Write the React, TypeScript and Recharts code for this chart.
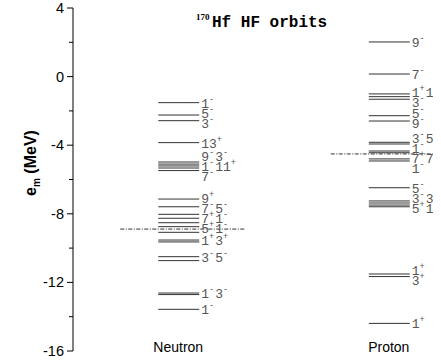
import React from "react";
import { ComposedChart, Scatter, XAxis, YAxis } from "recharts";

// single-particle levels (MeV) and their j^pi labels, top to bottom
const columns = ["Neutron", "Proton"];

const neutronEnergies = [
  -1.52, -2.24, -2.57, -3.85, -4.98, -5.1, -5.21, -5.33, -5.48, -7.14, -7.59, -8.03,
  -8.26, -8.52, -8.75, -9.08, -9.53, -9.64, -10.5, -10.73, -12.62, -12.71, -13.57,
];
const neutronLabels = [
  "1-", "5-", "3-", "13+", "9- 3-", "", "1- 11+", "", "7-", "9+", "7- 5-", "",
  "7+ 1-", "", "5+ 1-", "", "1+ 3+", "", "3- 5-", "", "1- 3-", "", "1-",
];

const protonEnergies = [
  2.02, 0.15, -1.01, -1.17, -1.32, -2.28, -2.59, -3.83, -3.93, -4.34, -4.44, -4.8,
  -4.92, -6.48, -7.25, -7.37, -7.49, -7.59, -11.51, -11.66, -14.39,
];
const protonLabels = [
  "9-", "7-", "1+ 11-", "", "3-", "5-", "9-", "3- 5+", "", "1-", "", "7+ 7-",
  "1-", "5-", "3- 3+", "", "5+ 1+", "", "1+", "3+", "1+",
];

const fermiEnergies = [-8.89, -4.51];

const yTicks = [4, 2, 0, -2, -4, -6, -8, -10, -12, -14, -16];

const W = 441;
const H = 362;
const M = { top: 8, right: 8, bottom: 0, left: 0 };
const X_AXIS_H = 11;
const Y_MIN = -16;
const Y_MAX = 4;
const pxPerMeV = (H - M.top - M.bottom - X_AXIS_H) / (Y_MAX - Y_MIN);

const levels = [
  ...neutronEnergies.map((y) => ({ x: 1, y })),
  ...protonEnergies.map((y) => ({ x: 2, y })),
];
const fermi = fermiEnergies.map((y, i) => ({ x: i + 1, y }));

// spread the labels so they don't overlap, roughly centred on their lines
function layoutLabels(energies: number[], labels: string[], col: number) {
  const gap = 10 / pxPerMeV;
  const items = energies
    .map((e, i) => ({ d: -e, text: labels[i] }))
    .filter((it) => it.text !== "")
    .sort((a, b) => a.d - b.d);
  const pos = items.map((it) => it.d);
  for (let i = 1; i < pos.length; i++) pos[i] = Math.max(pos[i], pos[i - 1] + gap);
  let start = 0;
  for (let i = 1; i <= pos.length; i++) {
    if (i === pos.length || pos[i] - pos[i - 1] > gap + 1e-6) {
      let shift = 0;
      for (let k = start; k < i; k++) shift += pos[k] - items[k].d;
      shift /= i - start;
      for (let k = start; k < i; k++) pos[k] -= shift;
      start = i;
    }
  }
  for (let i = 1; i < pos.length; i++) pos[i] = Math.max(pos[i], pos[i - 1] + gap);
  return items.map((it, i) => ({ x: col, y: -pos[i], text: it.text }));
}

const labelPoints = [
  ...layoutLabels(neutronEnergies, neutronLabels, 1),
  ...layoutLabels(protonEnergies, protonLabels, 2),
];

const LevelShape = (props: any) => {
  const { cx, cy } = props;
  return <line x1={cx - 20} x2={cx + 21} y1={cy} y2={cy} stroke="#333" strokeWidth={1} />;
};

const FermiShape = (props: any) => {
  const { cx, cy } = props;
  return (
    <line
      x1={cx - 58}
      x2={cx + 66}
      y1={cy}
      y2={cy}
      stroke="#333"
      strokeWidth={1}
      strokeDasharray="4 1.5 1 1.5"
    />
  );
};

const LabelShape = (props: any) => {
  const { cx, cy, payload } = props;
  const tokens: string[] = payload.text.split(" ");
  const parts: React.ReactNode[] = [];
  tokens.forEach((t, i) => {
    const num = t.slice(0, -1);
    const sign = t.slice(-1);
    parts.push(
      <tspan key={"n" + i} dx={i ? 1 : 0} dy={i ? 6 : 0}>
        {num}
      </tspan>
    );
    parts.push(
      <tspan key={"s" + i} dy={-6} fontSize={8.5}>
        {sign}
      </tspan>
    );
  });
  return (
    <text
      x={cx + 23}
      y={cy + 5}
      fontFamily="Liberation Mono, monospace"
      fontSize={13}
      fill="#555"
    >
      {parts}
    </text>
  );
};

const YTick = (props: any) => {
  const { x, y, payload } = props;
  const major = payload.value % 4 === 0;
  return (
    <g>
      <line x1={x - (major ? 6 : 4)} x2={x} y1={y} y2={y} stroke="#000" />
      {major && (
        <text
          x={x - 9}
          y={y + 5}
          textAnchor="end"
          fontFamily="Liberation Sans, Arial, sans-serif"
          fontSize={14.5}
          fill="#000"
        >
          {payload.value}
        </text>
      )}
    </g>
  );
};

const XTick = (props: any) => {
  const { x, y, payload } = props;
  return (
    <text
      x={x}
      y={y + 1}
      textAnchor="middle"
      fontFamily="Liberation Sans, Arial, sans-serif"
      fontSize={14}
      fill="#000"
    >
      {columns[payload.value - 1]}
    </text>
  );
};

export default function App() {
  return (
    <div style={{ position: "absolute", left: 0, top: 0, width: W, height: H, background: "#fff" }}>
      <ComposedChart width={W} height={H} margin={M} style={{ overflow: "visible" }}>
        <XAxis
          type="number"
          dataKey="x"
          domain={[0.5, 2.21]}
          ticks={[1, 2]}
          axisLine={false}
          tickLine={false}
          tickSize={0}
          tickMargin={0}
          height={X_AXIS_H}
          tick={<XTick />}
          interval={0}
          allowDataOverflow
        />
        <YAxis
          type="number"
          dataKey="y"
          domain={[Y_MIN, Y_MAX]}
          ticks={yTicks}
          width={73}
          tickSize={0}
          tickMargin={0}
          tickLine={false}
          axisLine={{ stroke: "#000" }}
          tick={<YTick />}
          interval={0}
          allowDataOverflow
        />
        <Scatter data={fermi} shape={<FermiShape />} isAnimationActive={false} />
        <Scatter data={levels} shape={<LevelShape />} isAnimationActive={false} />
        <Scatter data={labelPoints} shape={<LabelShape />} isAnimationActive={false} />
      </ComposedChart>
      <svg
        width={W}
        height={H}
        style={{ position: "absolute", left: 0, top: 0, pointerEvents: "none" }}
      >
        <text x={196} y={20} fontFamily="Liberation Serif, serif" fontWeight="bold" fontSize={9}>
          170
        </text>
        <text
          x={212}
          y={27}
          fontFamily="Liberation Mono, monospace"
          fontWeight="bold"
          fontSize={16}
        >
          Hf HF orbits
        </text>
        <text
          transform="translate(36,163) rotate(-90)"
          textAnchor="middle"
          fontFamily="Liberation Sans, Arial, sans-serif"
          fontWeight="bold"
          fontSize={16}
        >
          e
          <tspan fontSize={10} dy={4}>
            m
          </tspan>
          <tspan dy={-4}> (MeV)</tspan>
        </text>
      </svg>
    </div>
  );
}
